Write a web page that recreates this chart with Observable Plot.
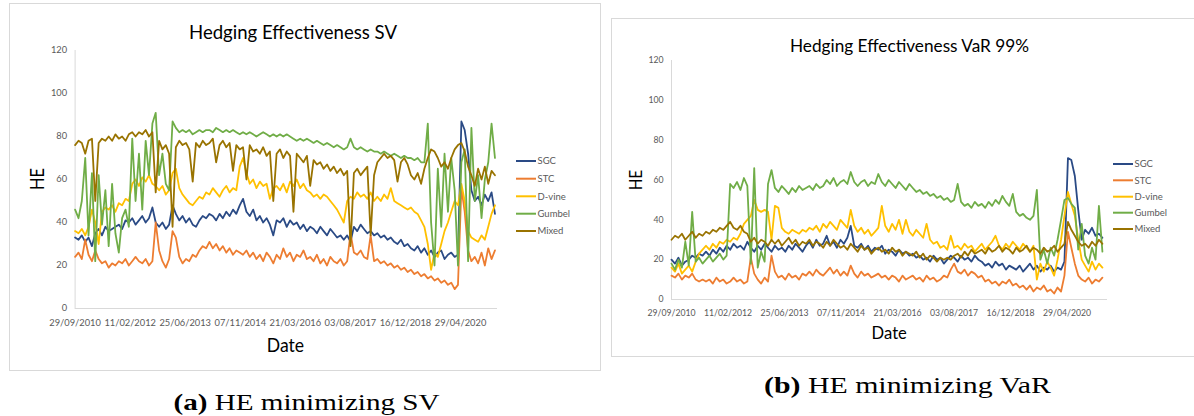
<!DOCTYPE html>
<html><head><meta charset="utf-8">
<script src="https://cdn.jsdelivr.net/npm/d3@7"></script>
<script src="https://cdn.jsdelivr.net/npm/@observablehq/plot@0.6"></script>
<style>
html,body{margin:0;padding:0;background:#fff;}
body{width:1194px;height:416px;overflow:hidden;position:relative;font-family:Lato,"Open Sans",sans-serif;}
.pl{position:absolute;top:0;}
#overlay{position:absolute;left:0;top:0;pointer-events:none;}
</style>
</head><body>
<div id="pa" class="pl" style="left:0"></div>
<div id="pb" class="pl" style="left:600px"></div>
<svg id="overlay" width="1194" height="416"></svg>
<script>
// ---------- data (one value per month, starting 29/09/2010) ----------
const seriesNames = ["SGC", "STC", "D-vine", "Gumbel", "Mixed"];
const seriesColors = ["#2A4A85", "#ED7D31", "#FFC000", "#70AD47", "#997300"];
const tickLabels = ["29/09/2010","11/02/2012","25/06/2013","07/11/2014","21/03/2016","03/08/2017","16/12/2018","29/04/2020"];
const yTicks = [0, 20, 40, 60, 80, 100, 120];

// Panel (a): HE minimizing SV
const svSGC = [33,32,34,31,33,29,35,37,34,38, 36,37,38,39,37,41,40,42,39,41, 43,40,42,47,40,38,40,37,39,48,
  44,41,43,40,42,39,38,41,43,42, 44,43,41,44,42,45,43,46,44,48, 51,45,43,46,41,43,40,42,39,34,
  41,40,42,38,41,39,40,37,39,36, 38,37,35,38,36,34,37,35,33,34, 32,34,31,38,36,39,37,35,36,34,
  35,33,34,32,33,31,30,32,29,30, 28,27,29,26,28,25,27,24,26,27, 23,25,26,24,25,87,83,72,55,50,
  52,48,53,50,54,44];
const svSTC = [24,26,23,32,25,22,27,23,21,22, 19,21,20,22,21,23,20,22,24,22, 21,23,20,22,40,27,22,19,23,36,
  33,24,21,23,22,25,24,27,29,28, 31,28,30,27,29,26,28,25,27,26, 25,27,24,26,23,25,22,26,24,21,
  25,23,28,24,26,22,25,24,27,23, 24,22,25,21,23,20,24,22,21,23, 20,22,35,26,25,27,24,23,34,22,
  23,21,22,20,21,19,20,18,19,17, 18,16,17,15,16,14,15,13,14,12, 13,11,12,9,11,56,45,27,22,24,
  21,26,20,28,23,27];
const svDvine = [36,35,37,34,38,46,40,30,45,47, 46,48,45,49,48,51,50,58,60,57, 61,59,62,58,57,55,57,53,55,63,
  65,56,53,51,49,48,50,52,51,54, 53,56,54,52,55,57,54,56,55,66, 70,63,58,60,56,59,57,58,51,56,
  57,55,58,54,59,57,60,56,58,55, 54,52,53,51,53,52,50,48,46,43, 40,50,52,51,54,52,53,51,54,50,
  52,50,53,51,56,50,49,48,47,46, 47,45,44,41,38,30,18,26,24,30, 36,40,45,50,48,58,50,36,33,32,
  31,34,32,38,44,48];
const svGumbel = [46,42,50,70,34,63,22,62,39,55, 29,58,35,26,42,46,38,79,50,72, 46,78,62,86,91,62,72,58,55,87,
  84,82,83,82,83,81,82,83,82,83, 83,82,84,83,82,83,82,83,82,81, 82,81,82,81,80,81,82,81,80,81,
  80,81,80,81,80,79,78,79,78,79, 78,77,78,77,76,77,76,75,76,75, 74,75,79,75,74,75,74,73,74,73,
  73,72,73,72,71,72,71,70,71,70, 70,69,70,68,68,86,40,20,65,38, 72,45,70,55,20,68,74,22,84,50,
  62,42,60,68,86,70];
const svMixed = [76,78,77,72,78,79,50,77,79,78, 80,78,81,79,80,78,81,82,80,82, 81,83,80,82,54,78,74,76,72,38,
  75,78,76,77,74,59,77,75,78,76, 77,79,68,76,78,75,77,64,76,74, 75,60,76,73,74,72,75,71,73,50,
  72,74,70,73,71,45,72,70,68,71, 57,69,67,68,65,67,64,66,63,65, 62,64,29,63,65,62,64,66,34,62,
  68,70,72,70,71,69,59,68,70,67, 62,60,63,58,65,70,74,73,70,66, 68,65,70,74,76,77,73,66,62,57,
  65,60,66,58,64,62];

// Panel (b): HE minimizing VaR 99%
const varSGC = [20,18,21,17,19,20,22,21,23,22, 24,22,25,23,26,24,27,25,28,26, 27,25,29,26,24,27,25,28,26,24,
  27,25,26,24,27,25,28,26,24,27, 29,26,30,27,28,32,27,29,26,30, 28,31,37,27,26,28,25,27,24,26,
  25,27,23,25,24,22,25,23,24,22, 23,21,22,20,21,19,22,20,21,18, 20,22,21,19,22,20,21,19,22,20,
  19,17,18,16,19,17,18,15,17,16, 15,17,14,16,18,15,17,14,16,15, 17,14,16,15,19,71,70,62,45,30,
  35,33,36,32,33,31];
const varSTC = [12,11,13,10,12,11,13,10,9,10, 9,10,8,11,9,10,8,9,11,9, 10,8,9,21,13,10,8,11,9,22,
  14,11,12,10,13,11,12,10,13,12, 14,12,15,13,12,14,16,13,15,12, 14,12,17,13,11,14,12,13,11,12,
  13,11,12,10,12,11,9,12,10,11, 12,10,11,9,12,10,11,9,10,12, 11,15,18,14,13,15,12,14,13,11,
  12,9,10,8,9,7,9,8,10,7, 8,6,7,5,7,4,6,5,7,4, 5,3,6,4,12,34,26,18,12,10,
  9,11,8,10,9,11];
const varDvine = [16,14,18,13,15,17,14,19,23,25, 27,25,28,26,29,28,30,29,31,30, 33,38,40,42,50,45,44,45,44,30,
  47,46,36,34,33,35,34,33,35,34, 36,35,37,34,38,36,39,37,35,40, 38,36,45,37,34,36,33,35,32,34,
  36,47,37,34,38,35,40,33,40,34, 32,35,33,31,38,30,28,29,26,27, 25,32,26,27,25,28,26,27,24,26,
  28,25,27,29,32,27,25,28,26,29, 27,25,28,26,24,27,10,18,14,19, 16,12,20,30,42,54,48,42,30,20,
  17,14,19,15,18,16];
const varGumbel = [18,15,20,16,29,17,44,19,21,18, 20,22,19,21,23,20,22,58,56,59, 55,61,57,18,66,16,24,19,58,65,
  56,54,57,55,53,56,54,57,55,56, 57,55,58,56,57,60,58,61,57,59, 60,58,64,59,57,59,60,57,59,58,
  63,59,57,60,58,56,59,57,55,58, 56,54,55,53,54,52,53,51,52,50, 51,49,50,58,49,47,48,46,49,47,
  48,46,49,47,50,48,52,49,47,53, 44,42,43,41,40,42,55,20,25,18, 26,22,30,40,50,51,48,46,25,38,
  22,18,26,20,47,24];
const varMixed = [30,32,31,33,30,32,34,31,33,32, 34,33,35,34,36,35,37,39,36,35, 37,34,33,29,31,28,30,29,27,30,
  28,30,27,29,31,28,30,27,29,28, 30,27,29,28,26,29,27,30,28,26, 27,25,28,26,24,27,25,26,23,25,
  26,24,25,23,26,24,25,22,24,23, 22,24,21,23,20,22,21,19,21,20, 21,20,22,23,21,24,22,25,23,24,
  25,23,26,24,25,27,24,26,25,23, 26,24,25,27,24,26,25,23,26,24, 25,27,24,26,28,39,35,32,29,27,
  28,26,29,27,30,28];

// ---------- build ----------
const parse = d3.utcParse("%d/%m/%Y");
const start = parse(tickLabels[0]);
const dates = d3.range(svSGC.length).map(i => d3.utcDay.offset(start, Math.round(i * 30.5)));
const tickDates = tickLabels.map(parse);

function table(arrs) {
  const rows = [];
  arrs.forEach((vals, k) => vals.forEach((v, i) => rows.push({date: dates[i], value: v, series: seriesNames[k]})));
  return rows;
}

function panel(rows, o) {
  return Plot.plot({
    width: o.width, height: o.height,
    marginLeft: o.ml, marginRight: o.mr, marginTop: o.mt, marginBottom: o.mb,
    style: {background: "transparent", fontFamily: "Lato, 'Open Sans', sans-serif", fontSize: o.fs, color: "#595959", overflow: "visible"},
    x: {type: "utc", domain: [start, d3.utcDay.offset(start, o.days)], ticks: tickDates,
        tickFormat: d3.utcFormat("%d/%m/%Y"), tickSize: 0, tickPadding: o.xpad, label: null},
    y: {domain: [0, 120], ticks: yTicks, tickSize: 0, tickPadding: 8, label: null},
    color: {domain: seriesNames, range: seriesColors},
    marks: [
      Plot.ruleX([start], {stroke: "#d9d9d9", strokeWidth: 1}),
      Plot.ruleY([0], {stroke: "#d9d9d9", strokeWidth: 1}),
      Plot.line(rows, {x: "date", y: "value", z: "series", stroke: "series", strokeWidth: 1.8, strokeLinejoin: "round"})
    ]
  });
}

document.getElementById("pa").appendChild(panel(
  table([svSGC, svSTC, svDvine, svGumbel, svMixed]),
  {width: 600, height: 370, ml: 74.6, mr: 103, mt: 50, mb: 62, days: 3836, fs: "9.3px", xpad: 11}));
document.getElementById("pb").appendChild(panel(
  table([varSGC, varSTC, varDvine, varGumbel, varMixed]),
  {width: 594, height: 370, ml: 71, mr: 87, mt: 60, mb: 71, days: 3858, fs: "8.7px", xpad: 10.5}));

// ---------- frames, titles, labels, legends, captions ----------
const ov = d3.select("#overlay");
ov.append("rect").attr("x", 9.5).attr("y", 3.5).attr("width", 591).attr("height", 367)
  .attr("fill", "none").attr("stroke", "#d9d9d9");
ov.append("rect").attr("x", 611.5).attr("y", 18.5).attr("width", 600).attr("height", 338)
  .attr("fill", "none").attr("stroke", "#d9d9d9");

const sans = "Lato, 'Open Sans', sans-serif";
function txt(s, x, y, size, opt = {}) {
  const t = ov.append("text").attr("x", x).attr("y", y).attr("font-family", opt.family || sans)
    .attr("font-size", size).attr("fill", opt.fill || "#000").attr("text-anchor", opt.anchor || "middle").text(s);
  if (opt.len) t.attr("textLength", opt.len).attr("lengthAdjust", "spacingAndGlyphs");
  if (opt.rot) t.attr("transform", `rotate(-90 ${x} ${y})`);
  return t;
}
txt("Hedging Effectiveness SV", 293, 39.3, 18.5, {len: 208});
txt("Hedging Effectiveness VaR 99%", 909.5, 51.7, 17.5, {len: 239});
txt("HE", 44, 179, 18.5, {rot: true, len: 22});
txt("HE", 642.4, 180, 17.5, {rot: true, len: 20});
txt("Date", 285.5, 351.7, 20, {len: 37.3});
txt("Date", 889.2, 339.3, 17.5, {len: 35.2});

function legend(x0, ys, size) {
  seriesNames.forEach((n, i) => {
    ov.append("line").attr("x1", x0).attr("x2", x0 + 20).attr("y1", ys[i]).attr("y2", ys[i])
      .attr("stroke", seriesColors[i]).attr("stroke-width", 2);
    txt(n, x0 + 21.5, ys[i] + size * 0.35, size, {anchor: "start", fill: "#595959"});
  });
}
legend(516, [161, 178.7, 196.3, 213.7, 231], 9.5);
legend(1113, [164, 180.3, 196.7, 212.7, 229], 9.5);

const serif = "'Liberation Serif', 'DejaVu Serif', serif";
function caption(tag, rest, x, y, len) {
  const t = ov.append("text").attr("x", x).attr("y", y).attr("font-family", serif).attr("font-size", 24)
    .attr("fill", "#000").attr("text-anchor", "middle")
    .attr("textLength", len).attr("lengthAdjust", "spacingAndGlyphs");
  t.append("tspan").attr("font-weight", "bold").text(tag);
  t.append("tspan").text(rest);
}
caption("(a)", " HE minimizing SV", 306.5, 410, 266);
caption("(b)", " HE minimizing VaR", 907.5, 393, 287);
</script>
</body></html>
